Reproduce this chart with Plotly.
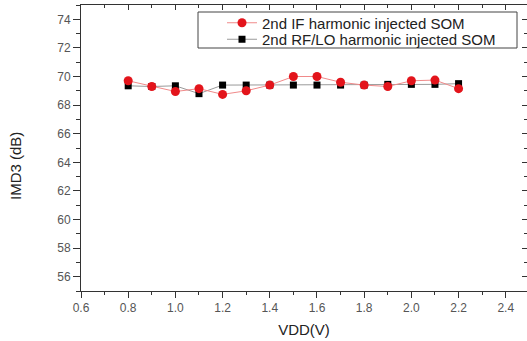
import plotly.graph_objects as go

# Supply voltage sweep (V)
vdd = [0.8, 0.9, 1.0, 1.1, 1.2, 1.3, 1.4, 1.5, 1.6, 1.7, 1.8, 1.9, 2.0, 2.1, 2.2]

# IMD3 (dB) for the two harmonic-injection schemes
imd3_if = [69.7, 69.3, 68.95, 69.15, 68.75, 69.0, 69.4, 70.0, 70.0, 69.6, 69.4, 69.3, 69.7, 69.75, 69.15]
imd3_rflo = [69.35, 69.3, 69.35, 68.8, 69.4, 69.4, 69.4, 69.4, 69.4, 69.4, 69.4, 69.45, 69.45, 69.45, 69.5]

series_names = ["2nd IF harmonic injected SOM", "2nd RF/LO harmonic injected SOM"]

x_range = [0.6, 2.49]
y_range = [55, 75]

W, H = 527, 341
ML, MR, MT, MB = 81, 0, 5, 50
PW, PH = W - ML - MR, H - MT - MB


def px_x(px):
    return (px - ML) / PW


def px_y(py):
    return (H - MB - py) / PH


fig = go.Figure()

fig.add_trace(go.Scatter(
    x=vdd, y=imd3_rflo, name=series_names[1], mode="lines+markers",
    line=dict(color="#9a9a9a", width=1),
    marker=dict(symbol="square", size=7, color="#000000"),
    legend="legend2",
))
fig.add_trace(go.Scatter(
    x=vdd, y=imd3_if, name=series_names[0], mode="lines+markers",
    line=dict(color="#f08a8a", width=1),
    marker=dict(symbol="circle", size=9, color="#e3141b"),
    legend="legend",
))

tick_font = dict(family="Liberation Sans, Arial, sans-serif", size=12, color="#555555")
axis_col = "#333333"


def legend_box(center_py):
    return dict(
        x=px_x(222), y=px_y(center_py), xanchor="left", yanchor="middle",
        bgcolor="rgba(0,0,0,0)", borderwidth=0,
        font=dict(size=15, color="#222222"),
    )


fig.update_layout(
    width=W, height=H,
    margin=dict(l=ML, r=MR, t=MT, b=MB),
    paper_bgcolor="white", plot_bgcolor="white",
    font=dict(family="Liberation Sans, Arial, sans-serif", color="#222222"),
    showlegend=True,
    legend=legend_box(23),
    legend2=legend_box(39.5),
    xaxis=dict(
        range=x_range, dtick=0.2, tick0=0.6, tickformat=".1f",
        showgrid=False, zeroline=False,
        showline=True, linecolor=axis_col, linewidth=1,
        ticks="outside", ticklen=6, tickwidth=1, tickcolor=axis_col,
        minor=dict(dtick=0.1, tick0=0.6, ticks="outside", ticklen=3, tickcolor=axis_col, showgrid=False),
        tickfont=tick_font,
        title=dict(text="VDD(V)", font=dict(size=15, color="#222222"), standoff=10),
    ),
    xaxis2=dict(
        range=x_range, overlaying="x", side="top", dtick=0.2, tick0=0.6,
        showgrid=False, zeroline=False, showticklabels=False,
        showline=True, linecolor=axis_col, linewidth=1,
        ticks="inside", ticklen=5, tickwidth=1, tickcolor=axis_col,
        minor=dict(dtick=0.1, tick0=0.6, ticks="inside", ticklen=3, tickcolor=axis_col, showgrid=False),
    ),
    yaxis=dict(
        range=y_range, dtick=2, tick0=56,
        showgrid=False, zeroline=False,
        showline=True, linecolor=axis_col, linewidth=1,
        ticks="outside", ticklen=7, tickwidth=1, tickcolor=axis_col,
        minor=dict(dtick=1, tick0=55, ticks="outside", ticklen=4, tickcolor=axis_col, showgrid=False),
        tickfont=tick_font,
    ),
    yaxis2=dict(
        range=y_range, overlaying="y", side="right", dtick=2, tick0=56,
        showgrid=False, zeroline=False, showticklabels=False,
        showline=False,
        ticks="inside", ticklen=5, tickwidth=1, tickcolor=axis_col,
        minor=dict(dtick=1, tick0=55, ticks="inside", ticklen=3, tickcolor=axis_col, showgrid=False),
    ),
    shapes=[dict(
        type="rect", xref="paper", yref="paper",
        x0=px_x(198), x1=px_x(517), y0=px_y(48), y1=px_y(12),
        line=dict(color="#444444", width=1), fillcolor="rgba(0,0,0,0)",
    )],
    annotations=[dict(
        text="IMD3 (dB)", textangle=-90, showarrow=False,
        xref="paper", yref="paper", x=px_x(15), y=px_y(166),
        xanchor="center", yanchor="middle",
        font=dict(size=15, color="#222222"),
    )],
)

# Keep the mirrored axes present on the figure
fig.add_trace(go.Scatter(x=[None], y=[None], xaxis="x2", yaxis="y2",
                         showlegend=False, hoverinfo="skip"))

fig.write_html("out.html")
